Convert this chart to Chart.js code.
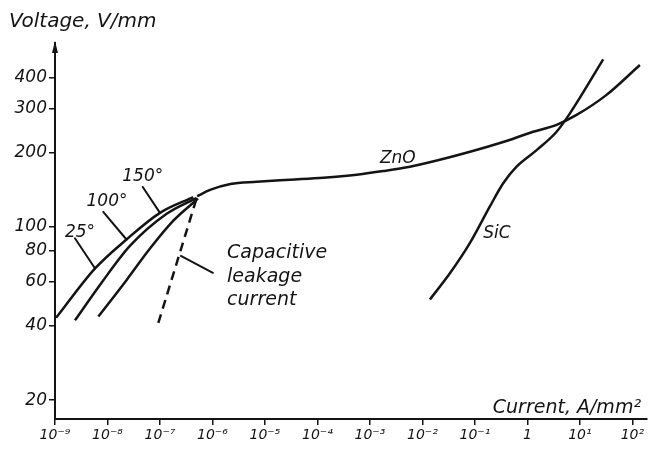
<!DOCTYPE html>
<html>
<head>
<meta charset="utf-8">
<script src="https://cdn.jsdelivr.net/npm/chart.js@4"></script>
<style>
  html, body { margin: 0; padding: 0; background: #fff; }
  #wrap { width: 652px; height: 452px; }
</style>
</head>
<body>
<div id="wrap"><canvas id="chart" width="652" height="452"></canvas></div>
<script>
// tick values
const xTicks = [1e-9, 1e-8, 1e-7, 1e-6, 1e-5, 1e-4, 1e-3, 1e-2, 1e-1, 1, 10, 100];
const xTickLabels = ["10⁻⁹", "10⁻⁸", "10⁻⁷", "10⁻⁶", "10⁻⁵", "10⁻⁴", "10⁻³", "10⁻²", "10⁻¹", "1", "10¹", "10²"];
const yTicks = [20, 40, 60, 80, 100, 200, 300, 400];

// ZnO at 25 / 100 / 150 deg (low current part)
const t25X = [1.05e-9, 5.8e-9, 2.3e-8, 1e-7, 4.3e-7];
const t25Y = [43, 68, 89, 114, 132];
const t100X = [2.4e-9, 7.9e-9, 2.7e-8, 1.34e-7, 5.0e-7];
const t100Y = [42, 60, 84, 113, 131];
const t150X = [6.7e-9, 2.3e-8, 6.5e-8, 1.8e-7, 5.3e-7];
const t150Y = [43.5, 61, 82, 106, 130];

// capacitive leakage current (dashed)
const capX = [9.3e-8, 5.07e-7];
const capY = [41, 132];

// ZnO main curve
const znoX = [5.1e-7, 9.0e-7, 2.2e-6, 7.0e-6, 3.0e-5, 1.3e-4, 5.6e-4, 1.8e-3, 5.8e-3, 3.3e-2, 0.30, 1.29, 3.6, 8.65, 32.2, 139];
const znoY = [133, 141, 149, 152, 155, 158, 162.5, 168, 175, 191, 218, 242, 258, 283, 341, 450];

// SiC
const sicX = [0.0139, 0.0334, 0.080, 0.193, 0.346, 0.622, 1.50, 3.6, 6.46, 27.8];
const sicY = [51, 65, 86, 121, 150, 175, 204, 242, 287, 474];

// text labels in data coordinates
const labels = [
  { text: "25°", x: 3.0e-9, y: 94.6 },
  { text: "100°", x: 9.8e-9, y: 127 },
  { text: "150°", x: 4.7e-8, y: 160 },
  { text: "ZnO", x: 3.4e-3, y: 189 },
  { text: "SiC", x: 0.262, y: 93.7 }
];
const capText = ["Capacitive", "leakage", "current"];
const capTextX = 1.9e-6;
const capTextY = [78.5, 62.8, 50.8];

// leader lines [x1, y1, x2, y2]
const leaders = [
  [2.4e-9, 90, 5.8e-9, 68],
  [8.3e-9, 115, 2.3e-8, 89],
  [4.7e-8, 145, 1e-7, 114]
];
const capLeader = [2.5e-7, 76.4, 1.02e-6, 65.3];

function series(xs, ys) {
  return xs.map((x, i) => ({ x: x, y: ys[i] }));
}

const FONT = "'DejaVu Sans', sans-serif";
const INK = "#141414";

const annotate = {
  id: "annotate",
  afterDatasetsDraw(chart) {
    const c = chart.ctx;
    const xs = chart.scales.x, ys = chart.scales.y;
    c.save();
    c.fillStyle = INK;
    c.strokeStyle = INK;
    c.lineWidth = 2;
    c.lineCap = "round";

    // arrow head on the y axis
    const ax = xs.left, at = ys.top;
    c.beginPath();
    c.moveTo(ax - 3, at + 10);
    c.lineTo(ax, at - 2);
    c.lineTo(ax + 3, at + 10);
    c.closePath();
    c.fill();

    leaders.concat([capLeader]).forEach(l => {
      c.beginPath();
      c.moveTo(xs.getPixelForValue(l[0]), ys.getPixelForValue(l[1]));
      c.lineTo(xs.getPixelForValue(l[2]), ys.getPixelForValue(l[3]));
      c.stroke();
    });

    c.textBaseline = "middle";
    c.textAlign = "center";
    c.font = "italic 17px " + FONT;
    labels.forEach(l => {
      c.fillText(l.text, xs.getPixelForValue(l.x), ys.getPixelForValue(l.y));
    });

    c.textAlign = "left";
    c.font = "italic 19px " + FONT;
    capText.forEach((t, i) => {
      c.fillText(t, xs.getPixelForValue(capTextX), ys.getPixelForValue(capTextY[i]));
    });

    // axis titles
    c.textBaseline = "alphabetic";
    c.font = "italic 20px " + FONT;
    c.textAlign = "left";
    c.fillText("Voltage, V/mm", 9, 27);
    c.textAlign = "right";
    c.font = "italic 19px " + FONT;
    c.fillText("Current, A/mm²", 641, 413);
    c.restore();
  }
};

const lineStyle = {
  borderColor: INK,
  borderWidth: 2.5,
  pointRadius: 0,
  fill: false,
  cubicInterpolationMode: "monotone"
};

new Chart(document.getElementById("chart"), {
  type: "line",
  data: {
    datasets: [
      Object.assign({ label: "25°", data: series(t25X, t25Y) }, lineStyle),
      Object.assign({ label: "100°", data: series(t100X, t100Y) }, lineStyle),
      Object.assign({ label: "150°", data: series(t150X, t150Y) }, lineStyle),
      Object.assign({ label: "Capacitive leakage current", data: series(capX, capY), borderDash: [9, 6] }, lineStyle),
      Object.assign({ label: "ZnO", data: series(znoX, znoY) }, lineStyle),
      Object.assign({ label: "SiC", data: series(sicX, sicY) }, lineStyle)
    ]
  },
  options: {
    responsive: false,
    animation: false,
    layout: { padding: { top: 43, right: 5, left: 0, bottom: 0 } },
    plugins: {
      legend: { display: false },
      tooltip: { enabled: false }
    },
    scales: {
      x: {
        type: "logarithmic",
        min: 1e-9,
        max: 190,
        afterFit: s => { s.height = 33; },
        afterBuildTicks: s => { s.ticks = xTicks.map(v => ({ value: v })); },
        ticks: {
          color: INK,
          font: { family: FONT, size: 14, style: "italic" },
          maxRotation: 0,
          autoSkip: false,
          padding: 2,
          callback: (v) => {
            const i = xTicks.findIndex(t => Math.abs(Math.log10(t) - Math.log10(v)) < 1e-6);
            return i >= 0 ? xTickLabels[i] : "";
          }
        },
        grid: { drawOnChartArea: false, drawTicks: true, tickLength: 6, color: INK, lineWidth: 1.5 },
        border: { display: true, color: INK, width: 2 }
      },
      y: {
        type: "logarithmic",
        min: 16.8,
        max: 552,
        afterFit: s => { s.width = 55; },
        afterBuildTicks: s => { s.ticks = yTicks.map(v => ({ value: v })); },
        ticks: {
          color: INK,
          font: { family: FONT, size: 17, style: "italic" },
          autoSkip: false,
          padding: 2,
          callback: v => String(v)
        },
        grid: { drawOnChartArea: false, drawTicks: true, tickLength: 6, color: INK, lineWidth: 1.5 },
        border: { display: true, color: INK, width: 2 }
      }
    }
  },
  plugins: [annotate]
});
</script>
</body>
</html>
